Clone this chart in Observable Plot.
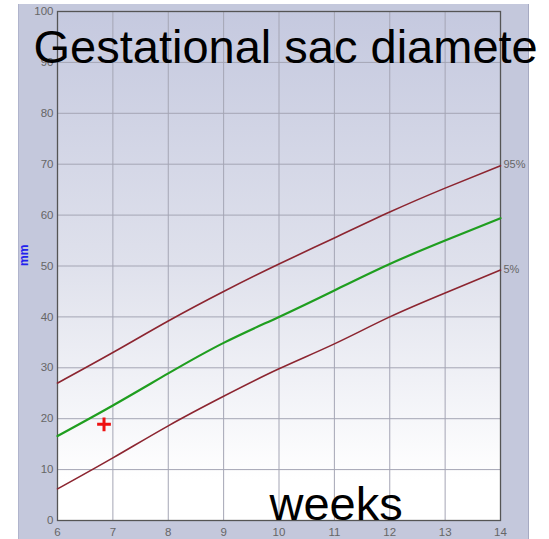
<!DOCTYPE html>
<html>
<head>
<meta charset="utf-8">
<script src="https://cdn.jsdelivr.net/npm/d3@7"></script>
<script src="https://cdn.jsdelivr.net/npm/@observablehq/plot@0.6"></script>
<style>
  html, body { margin: 0; padding: 0; background: #ffffff; }
  #wrap { position: relative; width: 549px; height: 539px; overflow: hidden; }
  #panel { position: absolute; left: 18px; top: 4px; width: 509px; height: 540px;
           background: #c4c8dc; border-left: 1px solid #b0b4cc; border-right: 1px solid #a6aac2; }
  #chart { position: absolute; left: 0; top: 0; }
</style>
</head>
<body>
<div id="wrap"><div id="panel"></div><div id="chart"></div></div>
<script>
const weeks = [6, 7, 8, 9, 10, 11, 12, 13, 14];
const p95 = [27.0, 33.0, 39.2, 45.0, 50.4, 55.5, 60.6, 65.3, 69.7];
const p50 = [16.6, 22.6, 28.9, 34.9, 40.0, 45.2, 50.4, 55.0, 59.4];
const p5  = [6.2, 12.3, 18.6, 24.4, 29.8, 34.7, 40.0, 44.7, 49.2];
const measuredWeek = [6.84];
const measuredMm = [18.9];
const xTicks = [6, 7, 8, 9, 10, 11, 12, 13, 14];
const yTicks = [0, 10, 20, 30, 40, 50, 60, 70, 80, 90, 100];
const title = "Gestational sac diamete";
const xLabel = "weeks";
const yLabel = "mm";
const endLabels = ["95%", "5%"];

const rows = (vals) => weeks.map((w, i) => ({w, v: vals[i]}));
const ends = [{w: 14, v: p95[p95.length - 1], t: endLabels[0]}, {w: 14, v: p5[p5.length - 1], t: endLabels[1]}];
const points = measuredWeek.map((w, i) => ({w, v: measuredMm[i]}));

const defs = () => {
  const ns = "http://www.w3.org/2000/svg";
  const d = document.createElementNS(ns, "defs");
  d.innerHTML = `<linearGradient id="bg" x1="0" y1="0" x2="0" y2="1">
    <stop offset="0" stop-color="#c5c9df"/>
    <stop offset="0.5" stop-color="#dfe1ec"/>
    <stop offset="0.92" stop-color="#ffffff"/>
    <stop offset="1" stop-color="#ffffff"/></linearGradient>`;
  return d;
};

const font = "'Liberation Sans', Arial, sans-serif";

const chart = Plot.plot({
  width: 549,
  height: 539,
  marginLeft: 57,
  marginRight: 49,
  marginTop: 11,
  marginBottom: 19,
  style: {background: "transparent", fontFamily: font, fontSize: "11.5px", overflow: "visible"},
  x: {domain: [6, 14]},
  y: {domain: [0, 100]},
  marks: [
    defs,
    Plot.frame({fill: "url(#bg)", stroke: "none"}),
    Plot.gridX(xTicks, {stroke: "#a4a5b4", strokeOpacity: 1}),
    Plot.gridY(yTicks, {stroke: "#a4a5b4", strokeOpacity: 1}),
    Plot.axisX(xTicks, {tickSize: 0, tickPadding: 7, fill: "#666", label: null, tickFormat: d => d}),
    Plot.axisY(yTicks, {tickSize: 0, tickPadding: 4, fill: "#666", label: null, tickFormat: d => d}),
    Plot.frame({stroke: "#555", strokeWidth: 1.3}),
    Plot.line(rows(p95), {x: "w", y: "v", stroke: "#8c2530", strokeWidth: 1.6, curve: "natural"}),
    Plot.line(rows(p5), {x: "w", y: "v", stroke: "#8c2530", strokeWidth: 1.6, curve: "natural"}),
    Plot.line(rows(p50), {x: "w", y: "v", stroke: "#1f9e1f", strokeWidth: 2.2, curve: "natural"}),
    Plot.text(ends, {x: "w", y: "v", text: "t", textAnchor: "start", dx: 3, dy: -1, fill: "#666", fontSize: 11}),
    Plot.dot(points, {x: "w", y: "v", symbol: "plus", r: 4.5, stroke: "#ee1111", strokeWidth: 3}),
    Plot.text([yLabel], {frameAnchor: "left", dx: -33, rotate: -90, fill: "#2222ee", fontWeight: "bold", fontSize: 12}),
    Plot.text([title], {frameAnchor: "top-left", dx: -24, dy: 51, textAnchor: "start", lineAnchor: "bottom", fontSize: 47, fill: "#000", fontFamily: font}),
    Plot.text([xLabel], {frameAnchor: "bottom-left", dx: 212, dy: -1, textAnchor: "start", lineAnchor: "bottom", fontSize: 47, fill: "#000", fontFamily: font})
  ]
});
document.getElementById("chart").appendChild(chart);
</script>
</body>
</html>
